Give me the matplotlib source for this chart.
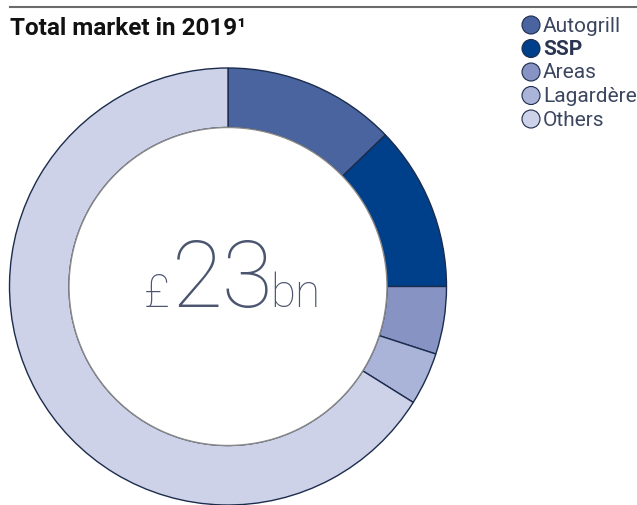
import matplotlib
matplotlib.use("Agg")
import matplotlib.pyplot as plt
from matplotlib.patches import Circle

# market share, % of total
companies = ["Autogrill", "SSP", "Areas", "Lagardère", "Others"]
shares = [12.8, 12.2, 5.0, 3.9, 66.1]
colours = ["#4a64a0", "#00408a", "#8793c3", "#aab3d8", "#cdd2e8"]
title = "Total market in 2019¹"

W, H = 637, 505
fig = plt.figure(figsize=(W / 100, H / 100), dpi=100)
ax = fig.add_axes([0, 0, 1, 1])

cx, cy = 228, H - 286.5
r_out, r_in = 218.5, 159

ax.pie(shares, colors=colours, startangle=90, counterclock=False,
       center=(cx, cy), radius=r_out,
       wedgeprops=dict(width=r_out - r_in, edgecolor="#1c2c4c", linewidth=1.0))
ax.add_patch(Circle((cx, cy), r_in, facecolor="white", edgecolor="#8a8a8a",
                    linewidth=1.0, zorder=5))

ax.set_xlim(0, W)
ax.set_ylim(0, H)
ax.set_aspect("equal")
ax.axis("off")

# top rule and title
ax.plot([10, W], [H - 7, H - 7], color="#6b6b6b", lw=1.5)
ax.text(10, H - 35, title, fontsize=17.5, fontweight="bold",
        family="Roboto", color="#111111", va="baseline")

# centre label
txt_col = "#4b5570"
ax.text(144, H - 307, "£", fontsize=33, fontweight="light", family="Roboto",
        color=txt_col, va="baseline", zorder=6)
ax.text(172, H - 307, "23", fontsize=67, fontweight="light", family="Roboto",
        color=txt_col, va="baseline", zorder=6)
ax.text(270, H - 307, "bn", fontsize=33, fontweight="light", family="Roboto",
        color=txt_col, va="baseline", zorder=6)

# legend
for i, (name, col) in enumerate(zip(companies, colours)):
    y = H - (25 + i * 23.5)
    ax.add_patch(Circle((531, y), 9, facecolor=col, edgecolor="#1c2c4c", lw=0.8))
    ax.text(543, y - 1, name, fontsize=15, family="Roboto",
            fontweight="bold" if name == "SSP" else "normal",
            color="#2b3550" if name == "SSP" else "#3c4660", va="center")

fig.savefig("out.png", dpi=100)
